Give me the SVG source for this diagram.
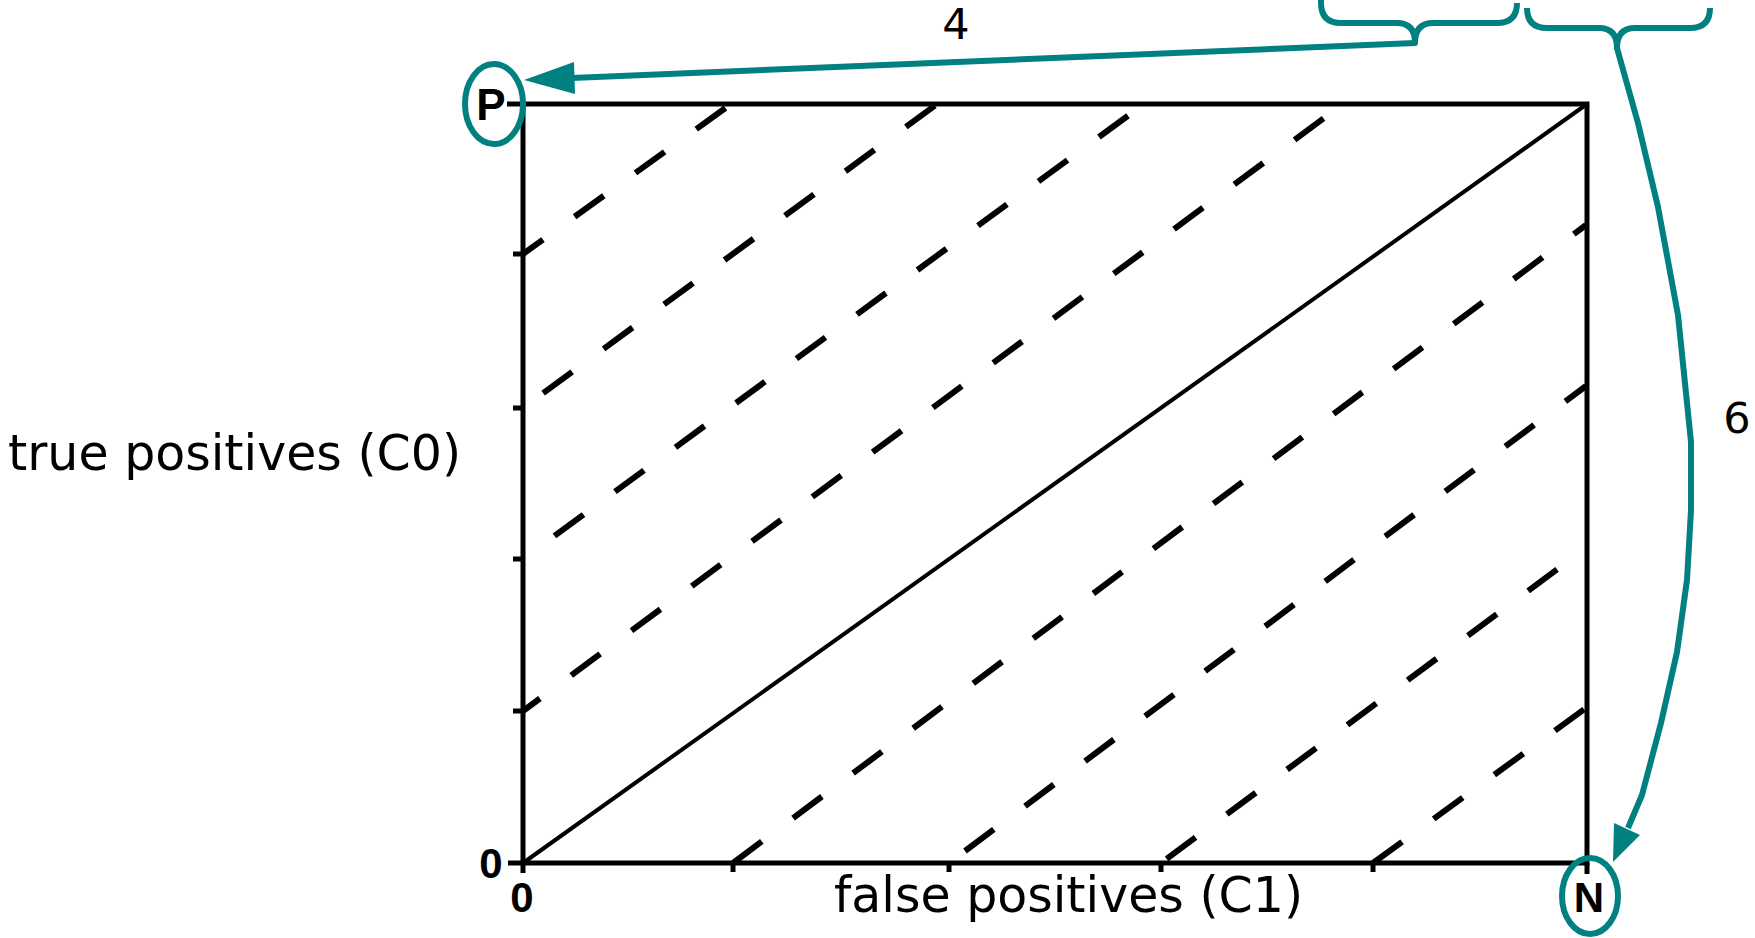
<svg xmlns="http://www.w3.org/2000/svg" width="1755" height="938" viewBox="0 0 1755 938">
<style>
.ax{stroke:#000;stroke-width:5;fill:none;stroke-linecap:butt}
.diag{stroke:#000;stroke-width:4;fill:none}
.dash{stroke:#000;stroke-width:6;fill:none;stroke-dasharray:36 39;stroke-linecap:butt}
.teal{stroke:#008080;stroke-width:6;fill:none;stroke-linejoin:round}
.head{fill:#008080;stroke:none}
.lbl{font-family:"DejaVu Sans","Verdana",sans-serif;font-size:49px;fill:#000}
.num{font-family:"DejaVu Sans","Verdana",sans-serif;font-size:43px;fill:#000}
.bold{font-family:"Liberation Sans",Arial,sans-serif;font-weight:bold;font-size:44px;fill:#000;text-anchor:middle}
</style>
<g id="plot">
<rect class="ax" x="523" y="104" width="1064" height="759"/>
<path class="ax" d="M507,104H523M508,863H523M523,863V873M1587,863V874M513,254H523M513,408H523M513,559H523M513,711H523M733,863V872M949,863V872M1161,863V872M1373,863V872"/>
<line class="diag" x1="523" y1="863" x2="1587" y2="104"/>
<path class="dash" style="stroke-dashoffset:11.4" d="M523,254L731,104"/>
<path class="dash" style="stroke-dashoffset:50" d="M523,408L937,104"/>
<path class="dash" style="stroke-dashoffset:36" d="M523,559L1144,104"/>
<path class="dash" style="stroke-dashoffset:15" d="M523,711L1343,104"/>
<path class="dash" style="stroke-dashoffset:0" d="M733,863L1586,225"/>
<path class="dash" style="stroke-dashoffset:55" d="M949,863L1586,386"/>
<path class="dash" style="stroke-dashoffset:68" d="M1161,863L1586,548"/>
<path class="dash" style="stroke-dashoffset:0" d="M1373,863L1586,708"/>
</g>
<g id="axis-labels">
<text class="lbl" x="8" y="470">true positives (C0)</text>
<text class="lbl" x="834" y="912">false positives (C1)</text>
<text class="bold" x="491" y="878" style="font-size:42px">0</text>
<text class="bold" x="522" y="912" style="font-size:42px">0</text>
</g>
<g id="node-P">
<ellipse cx="494" cy="104" rx="29" ry="40" fill="none" stroke="#008080" stroke-width="6"/>
<text class="bold" x="491" y="120">P</text>
</g>
<g id="node-N">
<ellipse cx="1590" cy="896" rx="28" ry="38" fill="none" stroke="#008080" stroke-width="6"/>
<text class="bold" x="1589" y="912" style="font-size:42px">N</text>
</g>
<g id="brace-left">
<path class="teal" d="M1321,-2V3Q1321,23 1341,23H1397Q1415,23 1415,43Q1415,23 1433,23H1497Q1517,23 1517,3"/>
</g>
<g id="brace-right">
<path class="teal" d="M1527,8Q1527,28 1547,28H1599Q1617,28 1617,48Q1617,28 1635,28H1690Q1710,28 1710,8"/>
</g>
<g id="connectors">
<path class="teal" d="M1415,43L572,78"/>
<polygon class="head" points="524,80 574,62 575,94"/>
<path class="teal" d="M1617,48L1622,66L1638,123L1658,207L1678,315L1691,442L1691,510L1687,580L1677,652L1661,723L1642,795L1628,828"/>
<polygon class="head" points="1613,862 1614,823 1640,835"/>
<text class="num" x="956" y="39" text-anchor="middle">4</text>
<text class="num" x="1737" y="433" text-anchor="middle">6</text>
</g>
</svg>
